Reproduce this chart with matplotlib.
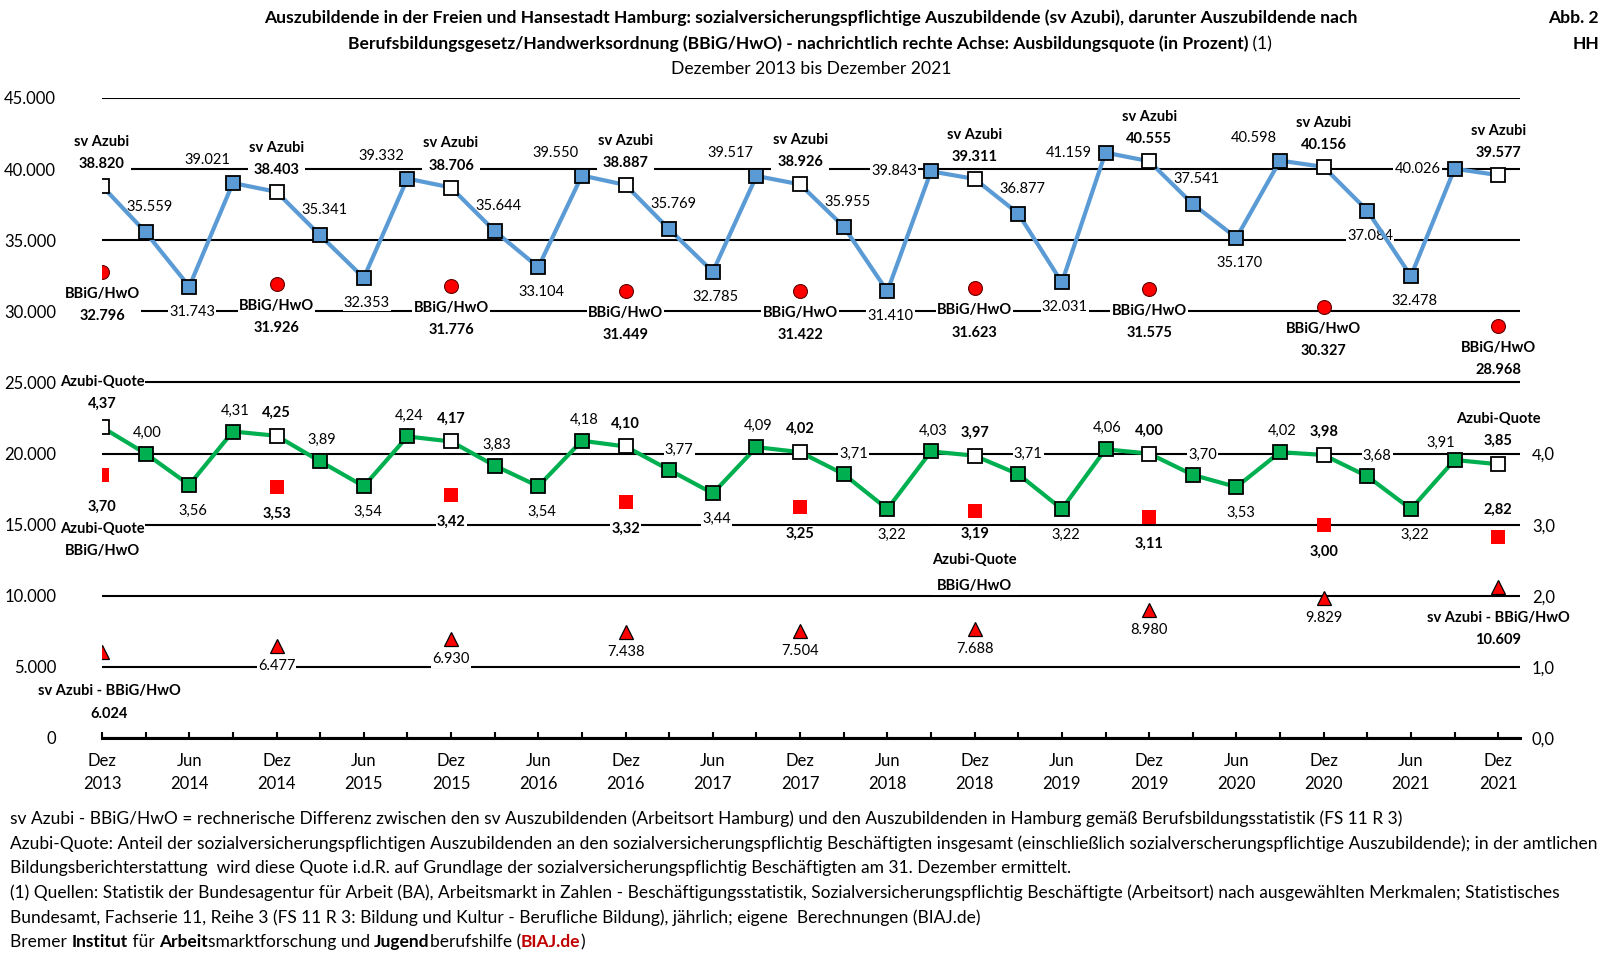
import numpy as np
import matplotlib
matplotlib.use("Agg")
import matplotlib.pyplot as plt

plt.rcParams['font.family'] = ['Lato', 'DejaVu Sans']

# Quartale Dez 2013 .. Dez 2021
perioden = ['Dez 2013'] + [f'{m} {j}' for j in range(2014, 2022) for m in ('Mär', 'Jun', 'Sep', 'Dez')]

# sv Auszubildende (quartalsweise)
sv_azubi = [38820, 35559, 31743, 39021, 38403, 35341, 32353, 39332, 38706,
            35644, 33104, 39550, 38887, 35769, 32785, 39517, 38926, 35955,
            31410, 39843, 39311, 36877, 32031, 41159, 40555, 37541, 35170,
            40598, 40156, 37084, 32478, 40026, 39577]

# Azubi-Quote in Prozent (quartalsweise, rechte Achse)
azubi_quote = [4.37, 4.00, 3.56, 4.31, 4.25, 3.89, 3.54, 4.24, 4.17,
               3.83, 3.54, 4.18, 4.10, 3.77, 3.44, 4.09, 4.02, 3.71,
               3.22, 4.03, 3.97, 3.71, 3.22, 4.06, 4.00, 3.70, 3.53,
               4.02, 3.98, 3.68, 3.22, 3.91, 3.85]

# jaehrlich (Dezember)
bbig_hwo = [32796, 31926, 31776, 31449, 31422, 31623, 31575, 30327, 28968]
quote_bbig = [3.70, 3.53, 3.42, 3.32, 3.25, 3.19, 3.11, 3.00, 2.82]
differenz = [6024, 6477, 6930, 7438, 7504, 7688, 8980, 9829, 10609]

# Lage der Beschriftungen (nur Layout)
pos_blau = {1: 'a', 2: 'b', 3: 'al', 5: 'a', 6: 'b', 7: 'al', 9: 'a', 10: 'b', 11: 'al',
            13: 'a', 14: 'b', 15: 'al', 17: 'a', 18: 'b', 19: 'l', 21: 'a', 22: 'b',
            23: 'l', 25: 'a', 26: 'b', 27: 'al', 29: 'b', 30: 'b', 31: 'l'}
pos_gruen = {1: 'a', 2: 'b', 3: 'a', 5: 'a', 6: 'b', 7: 'a', 9: 'a', 10: 'b', 11: 'a',
             13: 'ar', 14: 'b', 15: 'a', 17: 'ar', 18: 'b', 19: 'a', 21: 'ar', 22: 'b',
             23: 'a', 25: 'ar', 26: 'b', 27: 'a', 29: 'ar', 30: 'b', 31: 'al'}

BLAU = '#5B9BD5'
GRUEN = '#00B050'
ROT = '#FF0000'
FS = 10.5      # Datenbeschriftungen
FT = 12.0      # Achsen
FH = 12.6      # Titel
FF = 12.5      # Fussnoten

W, H = 1605, 961
fig = plt.figure(figsize=(W / 100, H / 100), dpi=100)
ax = fig.add_axes([102 / W, 1 - 738 / H, (1520 - 102) / W, (738 - 98) / H])
ax2 = ax.twinx()

x = np.arange(len(perioden))
dez = x[::4]


def de_int(v):
    return f'{v:,.0f}'.replace(',', '.')


def de_dec(v):
    return f'{v:.2f}'.replace('.', ',')


def lab(a, xv, yv, txt, dx, dy, bold=False, ha='center', va='center', ls=1.75):
    a.annotate(txt, (xv, yv), xytext=(dx, dy), textcoords='offset pixels',
               ha=ha, va=va, fontsize=FS, fontweight='bold' if bold else 'normal',
               linespacing=ls, zorder=4,
               bbox=dict(boxstyle='square,pad=0.08', fc='white', ec='none'))


# Achsen
ax.set_xlim(0, 32.5)
ax.set_ylim(0, 45000)
ax2.set_ylim(0, 9)
ax.set_yticks(range(0, 45001, 5000))
ax.set_yticklabels([de_int(v) for v in range(0, 45001, 5000)], fontsize=FT)
ax2.set_yticks([0, 1, 2, 3, 4])
ax2.set_yticklabels([f'{v},0' for v in range(5)], fontsize=FT)
ax.tick_params(axis='y', length=0, pad=33)
ax2.tick_params(axis='y', length=0, pad=8.5)
ax.set_axisbelow(True)
ax.grid(axis='y', color='black', lw=1.5)
for s in ['top', 'left', 'right']:
    ax.spines[s].set_visible(False)
for s in ax2.spines.values():
    s.set_visible(False)
ax.spines['bottom'].set_linewidth(2.2)
ax.spines['bottom'].set_zorder(3)
ax.set_xticks(x)
ax.set_xticklabels([p.replace(' ', '\n') if i % 2 == 0 else '' for i, p in enumerate(perioden)],
                   fontsize=FT, linespacing=1.55)
ax.tick_params(axis='x', direction='in', length=4, width=1.5, pad=11)

# sv Azubi
ax.plot(x, sv_azubi, color=BLAU, lw=3, zorder=5)
mq = np.array([i for i in x if i % 4 != 0])
ax.plot(mq, np.array(sv_azubi)[mq], ls='none', marker='s', ms=10.5, mfc=BLAU, mec='black', mew=1.3, zorder=6)
ax.plot(dez, np.array(sv_azubi)[dez], ls='none', marker='s', ms=10.5, mfc='white', mec='black', mew=1.3, zorder=6)

# BBiG/HwO und Differenz
ax.plot(dez, bbig_hwo, ls='none', marker='o', ms=10, mfc=ROT, mec='#600000', mew=0.8, zorder=6)
ax.plot(dez, differenz, ls='none', marker='^', ms=10, mfc=ROT, mec='black', mew=0.9, zorder=6)

# Azubi-Quote (rechte Achse)
ax2.plot(x, azubi_quote, color=GRUEN, lw=3, zorder=5)
ax2.plot(mq, np.array(azubi_quote)[mq], ls='none', marker='s', ms=10.5, mfc=GRUEN, mec='black', mew=1.3, zorder=6)
ax2.plot(dez, np.array(azubi_quote)[dez], ls='none', marker='s', ms=10.5, mfc='white', mec='black', mew=1.3, zorder=6)
ax2.plot(dez, quote_bbig, ls='none', marker='s', ms=9.5, mfc=ROT, mec=ROT, mew=0, zorder=6)

# Beschriftungen sv Azubi
off_b = {'a': (4, 25, 'center'), 'b': (3, -25, 'center'), 'al': (-26, 23, 'center'), 'l': (-14, 0, 'right')}
for i, p in pos_blau.items():
    dx, dy, ha = off_b[p]
    lab(ax, i, sv_azubi[i], de_int(sv_azubi[i]), dx, dy, ha=ha)
for i in dez:
    lab(ax, i, sv_azubi[i], 'sv Azubi\n' + de_int(sv_azubi[i]), 0, 15, bold=True, va='bottom')
for k, i in enumerate(dez):
    lab(ax, i, bbig_hwo[k], 'BBiG/HwO\n' + de_int(bbig_hwo[k]), 0, -15, bold=True, va='top')

# Beschriftungen Differenz
for k, i in enumerate(dez):
    if k == 0:
        lab(ax, i, differenz[k], 'sv Azubi - BBiG/HwO\n' + de_int(differenz[k]), 7, -32, bold=True, va='top')
    elif k == len(dez) - 1:
        lab(ax, i, differenz[k], 'sv Azubi - BBiG/HwO\n' + de_int(differenz[k]), 0, -24, bold=True, va='top')
    else:
        lab(ax, i, differenz[k], de_int(differenz[k]), 0, -13, va='top')

# Beschriftungen Azubi-Quote
off_g = {'a': (2, 21, 'center'), 'ar': (10, 20, 'center'), 'b': (4, -26, 'center'), 'al': (-14, 17, 'center')}
for i, p in pos_gruen.items():
    dx, dy, ha = off_g[p]
    lab(ax2, i, azubi_quote[i], de_dec(azubi_quote[i]), dx, dy, ha=ha)
for i in dez:
    if i == 0 or i == dez[-1]:
        lab(ax2, i, azubi_quote[i], 'Azubi-Quote\n' + de_dec(azubi_quote[i]), 0, 16, bold=True, va='bottom')
    else:
        lab(ax2, i, azubi_quote[i], de_dec(azubi_quote[i]), 0, 23, bold=True)
for k, i in enumerate(dez):
    if k == 0:
        lab(ax2, i, quote_bbig[k], de_dec(quote_bbig[k]) + '\nAzubi-Quote\nBBiG/HwO', 0, -25, bold=True, va='top')
    elif k == 5:
        lab(ax2, i, quote_bbig[k], de_dec(quote_bbig[k]) + '\nAzubi-Quote\nBBiG/HwO', 0, -16, bold=True,
            va='top', ls=2.1)
    elif k == len(dez) - 1:
        lab(ax2, i, quote_bbig[k], de_dec(quote_bbig[k]), 0, 28, bold=True)
    else:
        lab(ax2, i, quote_bbig[k], de_dec(quote_bbig[k]), 0, -27, bold=True)

# Titel
fig.text(811 / W, 1 - 18 / H, 'Auszubildende in der Freien und Hansestadt Hamburg: sozialversicherungspflichtige '
         'Auszubildende (sv Azubi), darunter Auszubildende nach', ha='center', va='center',
         fontsize=FH, fontweight='bold')
t2 = fig.text(798 / W, 1 - 44 / H, 'Berufsbildungsgesetz/Handwerksordnung (BBiG/HwO) - nachrichtlich rechte Achse: '
              'Ausbildungsquote (in Prozent)', ha='center', va='center', fontsize=FH, fontweight='bold')
ax.annotate(' (1)', xy=(1, 0), xycoords=t2, va='bottom', ha='left', fontsize=FH)
fig.text(811 / W, 1 - 69 / H, 'Dezember 2013 bis Dezember 2021', ha='center', va='center', fontsize=FH)
fig.text(1599 / W, 1 - 18 / H, 'Abb. 2', ha='right', va='center', fontsize=FH, fontweight='bold')
fig.text(1599 / W, 1 - 44 / H, 'HH', ha='right', va='center', fontsize=FH, fontweight='bold')

# Fussnoten
fuss = ['sv Azubi - BBiG/HwO = rechnerische Differenz zwischen den sv Auszubildenden (Arbeitsort Hamburg) '
        'und den Auszubildenden in Hamburg gemäß Berufsbildungsstatistik (FS 11 R 3)',
        'Azubi-Quote: Anteil der sozialversicherungspflichtigen Auszubildenden an den sozialversicherungspflichtig '
        'Beschäftigten insgesamt (einschließlich sozialverscherungspflichtige Auszubildende); in der amtlichen',
        'Bildungsberichterstattung  wird diese Quote i.d.R. auf Grundlage der sozialversicherungspflichtig '
        'Beschäftigten am 31. Dezember ermittelt.',
        '(1) Quellen: Statistik der Bundesagentur für Arbeit (BA), Arbeitsmarkt in Zahlen - Beschäftigungsstatistik, '
        'Sozialversicherungspflichtig Beschäftigte (Arbeitsort) nach ausgewählten Merkmalen; Statistisches',
        'Bundesamt, Fachserie 11, Reihe 3 (FS 11 R 3: Bildung und Kultur - Berufliche Bildung), jährlich; '
        'eigene  Berechnungen (BIAJ.de)']
for n, zeile in enumerate(fuss):
    fig.text(10 / W, 1 - (819 + n * 24.6) / H, zeile, ha='left', va='center', fontsize=FF)

teile = [('Bremer ', 'normal', 'black'), ('Institut', 'bold', 'black'), (' für ', 'normal', 'black'),
         ('Arbeit', 'bold', 'black'), ('smarktforschung und ', 'normal', 'black'), ('Jugend', 'bold', 'black'),
         ('berufshilfe (', 'normal', 'black'), ('BIAJ.de', 'bold', '#C00000'), (')', 'normal', 'black')]
prev = fig.text(10 / W, 1 - 942 / H, teile[0][0], ha='left', va='center', fontsize=FF)
for txt, fw, col in teile[1:]:
    prev = ax.annotate(txt, xy=(1, 0), xycoords=prev, va='bottom', ha='left', fontsize=FF,
                       fontweight=fw, color=col)

fig.savefig('out.png', dpi=100)
